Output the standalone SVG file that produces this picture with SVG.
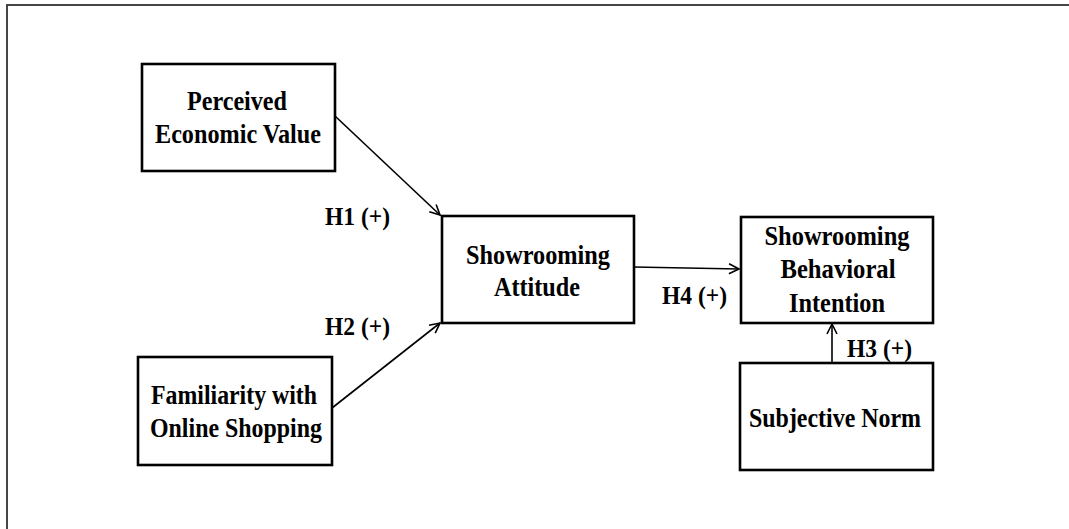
<svg xmlns="http://www.w3.org/2000/svg" width="1069" height="529" viewBox="0 0 1069 529">
<defs>
<style>
.box{fill:#fff;stroke:#000;stroke-width:2.6}
.t{font-family:"Liberation Serif","Times New Roman",serif;font-weight:bold;font-size:27px;fill:#000;text-anchor:middle}
.l{font-family:"Liberation Serif","Times New Roman",serif;font-weight:bold;font-size:26px;fill:#000}
.c{stroke:#000;stroke-width:1.6;fill:none;marker-end:url(#ah)}
</style>
<marker id="ah" markerUnits="userSpaceOnUse" markerWidth="14" markerHeight="14" refX="11" refY="6" orient="auto">
<path d="M1,1 L11,6 L1,11" fill="none" stroke="#000" stroke-width="1.6"/>
</marker>
</defs>
<rect width="1069" height="529" fill="#fff"/>
<rect x="7" y="5" width="1100" height="600" fill="none" stroke="#333" stroke-width="1.8"/>
<g id="connectors">
<line class="c" x1="335" y1="116" x2="440" y2="215"/>
<line class="c" x1="332" y1="408" x2="440" y2="323"/>
<line class="c" x1="634" y1="267" x2="739" y2="269"/>
<line class="c" x1="832" y1="363" x2="832" y2="324"/>
<text class="l" x="325" y="225" textLength="65" lengthAdjust="spacingAndGlyphs">H1 (+)</text>
<text class="l" x="325" y="335" textLength="65" lengthAdjust="spacingAndGlyphs">H2 (+)</text>
<text class="l" x="662" y="304" textLength="65" lengthAdjust="spacingAndGlyphs">H4 (+)</text>
<text class="l" x="847" y="357" textLength="65" lengthAdjust="spacingAndGlyphs">H3 (+)</text>
</g>
<g id="pev">
<rect class="box" x="142" y="64" width="193" height="107"/>
<text class="t" x="237" y="110" textLength="100" lengthAdjust="spacingAndGlyphs">Perceived</text>
<text class="t" x="238" y="143" textLength="166" lengthAdjust="spacingAndGlyphs">Economic Value</text>
</g>
<g id="fos">
<rect class="box" x="138" y="357" width="194" height="108"/>
<text class="t" x="234" y="404" textLength="166" lengthAdjust="spacingAndGlyphs">Familiarity with</text>
<text class="t" x="236" y="437" textLength="172" lengthAdjust="spacingAndGlyphs">Online Shopping</text>
</g>
<g id="sa">
<rect class="box" x="442" y="216" width="192" height="107"/>
<text class="t" x="538" y="264" textLength="144" lengthAdjust="spacingAndGlyphs">Showrooming</text>
<text class="t" x="537" y="296" textLength="86" lengthAdjust="spacingAndGlyphs">Attitude</text>
</g>
<g id="bi">
<rect class="box" x="741" y="217" width="192" height="106"/>
<text class="t" x="837" y="245" textLength="145" lengthAdjust="spacingAndGlyphs">Showrooming</text>
<text class="t" x="838" y="278" textLength="115" lengthAdjust="spacingAndGlyphs">Behavioral</text>
<text class="t" x="837" y="312" textLength="96" lengthAdjust="spacingAndGlyphs">Intention</text>
</g>
<g id="sn">
<rect class="box" x="740" y="363" width="193" height="107"/>
<text class="t" x="835" y="427" textLength="172" lengthAdjust="spacingAndGlyphs">Subjective Norm</text>
</g>
</svg>
